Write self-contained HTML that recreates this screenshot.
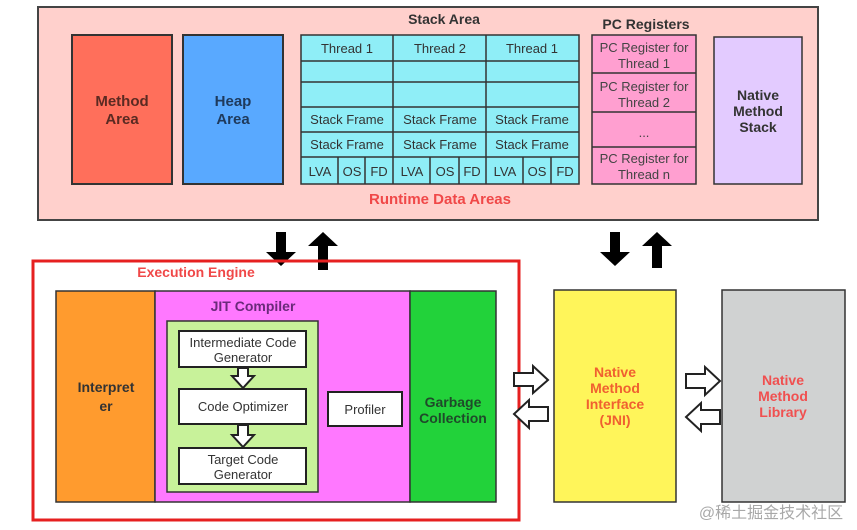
<!DOCTYPE html>
<html><head><meta charset="utf-8"><style>
html,body{margin:0;padding:0;background:#fff;width:857px;height:530px;overflow:hidden}
text{font-family:"Liberation Sans","Noto Sans CJK SC",sans-serif}
</style></head><body>
<svg width="857" height="530" viewBox="0 0 857 530" xmlns="http://www.w3.org/2000/svg">
<rect x="38" y="7" width="780" height="213" fill="#ffd0cc" stroke="#444" stroke-width="2"/>
<rect x="72" y="35" width="100" height="149" fill="#ff6f5b" stroke="#333" stroke-width="2"/>
<text x="122" y="106" font-size="15" font-weight="bold" fill="#5a2a22" text-anchor="middle">Method</text>
<text x="122" y="124" font-size="15" font-weight="bold" fill="#5a2a22" text-anchor="middle">Area</text>
<rect x="183" y="35" width="100" height="149" fill="#59a9ff" stroke="#333" stroke-width="2"/>
<text x="233" y="106" font-size="15" font-weight="bold" fill="#1f3a5c" text-anchor="middle">Heap</text>
<text x="233" y="124" font-size="15" font-weight="bold" fill="#1f3a5c" text-anchor="middle">Area</text>
<text x="444" y="24" font-size="14" font-weight="bold" fill="#333" text-anchor="middle">Stack Area</text>
<g fill="#8feef7" stroke="#333" stroke-width="1.5">
<rect x="301" y="35" width="278" height="149"/>
</g>
<g stroke="#333" stroke-width="1.5">
<line x1="301" y1="61" x2="579" y2="61"/><line x1="301" y1="82" x2="579" y2="82"/>
<line x1="301" y1="107" x2="579" y2="107"/><line x1="301" y1="132" x2="579" y2="132"/>
<line x1="301" y1="157" x2="579" y2="157"/>
<line x1="393" y1="35" x2="393" y2="184"/><line x1="486" y1="35" x2="486" y2="184"/>
<line x1="338" y1="157" x2="338" y2="184"/><line x1="365" y1="157" x2="365" y2="184"/>
<line x1="430" y1="157" x2="430" y2="184"/><line x1="459" y1="157" x2="459" y2="184"/>
<line x1="523" y1="157" x2="523" y2="184"/><line x1="551" y1="157" x2="551" y2="184"/>
</g>
<g font-size="13" fill="#333" text-anchor="middle">
<text x="347" y="53">Thread 1</text><text x="440" y="53">Thread 2</text><text x="532" y="53">Thread 1</text>
<text x="347" y="124">Stack Frame</text><text x="440" y="124">Stack Frame</text><text x="532" y="124">Stack Frame</text>
<text x="347" y="149">Stack Frame</text><text x="440" y="149">Stack Frame</text><text x="532" y="149">Stack Frame</text>
<text x="320" y="176">LVA</text><text x="352" y="176">OS</text><text x="379" y="176">FD</text>
<text x="412" y="176">LVA</text><text x="445" y="176">OS</text><text x="472" y="176">FD</text>
<text x="505" y="176">LVA</text><text x="537" y="176">OS</text><text x="565" y="176">FD</text>
</g>
<text x="646" y="29" font-size="14" font-weight="bold" fill="#333" text-anchor="middle">PC Registers</text>
<rect x="592" y="35" width="104" height="149" fill="#ff9fd0" stroke="#333" stroke-width="1.5"/>
<g stroke="#333" stroke-width="1.5"><line x1="592" y1="73" x2="696" y2="73"/><line x1="592" y1="112" x2="696" y2="112"/><line x1="592" y1="147" x2="696" y2="147"/></g>
<g font-size="13" fill="#444" text-anchor="middle">
<text x="644" y="52">PC Register for</text><text x="644" y="68">Thread 1</text>
<text x="644" y="91">PC Register for</text><text x="644" y="107">Thread 2</text>
<text x="644" y="137">...</text>
<text x="644" y="163">PC Register for</text><text x="644" y="179">Thread n</text>
</g>
<rect x="714" y="37" width="88" height="147" fill="#e3cbff" stroke="#333" stroke-width="1.5"/>
<g font-size="14" font-weight="bold" fill="#333" text-anchor="middle">
<text x="758" y="100">Native</text><text x="758" y="116">Method</text><text x="758" y="132">Stack</text></g>
<text x="440" y="204" font-size="15" font-weight="bold" fill="#f04848" text-anchor="middle">Runtime Data Areas</text>

<g fill="#000">
<polygon points="276,232 286,232 286,252 296,252 281,266 266,252 276,252"/>
<polygon points="323,232 338,246 328,246 328,270 318,270 318,246 308,246"/>
<polygon points="610,232 620,232 620,252 630,252 615,266 600,252 610,252"/>
<polygon points="657,232 672,246 662,246 662,268 652,268 652,246 642,246"/>
</g>

<rect x="33" y="261" width="486" height="259" fill="none" stroke="#e62020" stroke-width="3"/>
<text x="196" y="277" font-size="14" font-weight="bold" fill="#f04848" text-anchor="middle">Execution Engine</text>
<rect x="56" y="291" width="99" height="211" fill="#ff9b2e" stroke="#333" stroke-width="1.5"/>
<text x="106" y="392" font-size="14" font-weight="bold" fill="#333" text-anchor="middle">Interpret</text>
<text x="106" y="411" font-size="14" font-weight="bold" fill="#333" text-anchor="middle">er</text>
<rect x="155" y="291" width="255" height="211" fill="#ff78ff" stroke="#333" stroke-width="1.5"/>
<text x="253" y="311" font-size="14" font-weight="bold" fill="#6a2a7a" text-anchor="middle">JIT Compiler</text>
<rect x="410" y="291" width="86" height="211" fill="#22d23a" stroke="#333" stroke-width="1.5"/>
<text x="453" y="407" font-size="14" font-weight="bold" fill="#1f4a2a" text-anchor="middle">Garbage</text>
<text x="453" y="423" font-size="14" font-weight="bold" fill="#1f4a2a" text-anchor="middle">Collection</text>
<rect x="167" y="321" width="151" height="171" fill="#c8f29a" stroke="#333" stroke-width="1.5"/>
<g fill="#fff" stroke="#222" stroke-width="2">
<rect x="179" y="331" width="127" height="36"/>
<rect x="179" y="389" width="127" height="35"/>
<rect x="179" y="448" width="127" height="36"/>
<rect x="328" y="392" width="74" height="34"/>
<polygon points="238,368 248,368 248,376 254,376 243,388 232,376 238,376"/>
<polygon points="238,425 248,425 248,435 254,435 243,447 232,435 238,435"/>
</g>
<g font-size="13" fill="#333" text-anchor="middle">
<text x="243" y="347">Intermediate Code</text><text x="243" y="362">Generator</text>
<text x="243" y="411">Code Optimizer</text>
<text x="243" y="464">Target Code</text><text x="243" y="479">Generator</text>
<text x="365" y="414">Profiler</text>
</g>

<rect x="554" y="290" width="122" height="212" fill="#fff55a" stroke="#333" stroke-width="1.5"/>
<g font-size="14" font-weight="bold" fill="#f06030" text-anchor="middle">
<text x="615" y="377">Native</text><text x="615" y="393">Method</text><text x="615" y="409">Interface</text><text x="615" y="425">(JNI)</text></g>
<rect x="722" y="290" width="123" height="212" fill="#d0d2d2" stroke="#333" stroke-width="1.5"/>
<g font-size="14" font-weight="bold" fill="#f05050" text-anchor="middle">
<text x="783" y="385">Native</text><text x="783" y="401">Method</text><text x="783" y="417">Library</text></g>

<g fill="#fff" stroke="#222" stroke-width="2">
<polygon points="514,373 533,373 533,366 548,380 533,393 533,386 514,386"/>
<polygon points="548,407 529,407 529,400 514,414 529,428 529,421 548,421"/>
<polygon points="686,374 705,374 705,367 720,381 705,395 705,388 686,388"/>
<polygon points="720,410 701,410 701,403 686,417 701,431 701,424 720,424"/>
</g>
<text x="771" y="518" font-size="16" fill="#999" text-anchor="middle" opacity="0.85">@稀土掘金技术社区</text>
</svg>
</body></html>
